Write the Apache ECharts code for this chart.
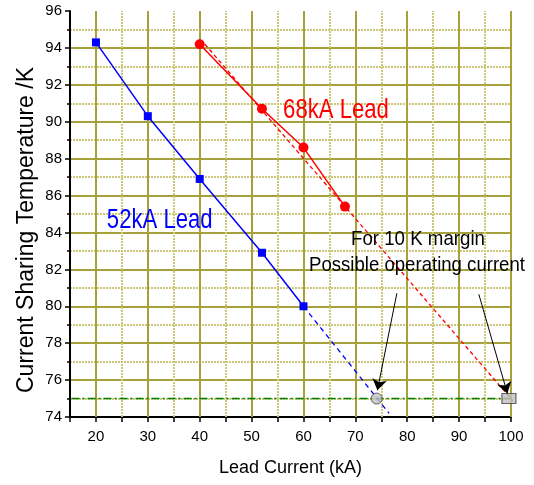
<!DOCTYPE html>
<html>
<head>
<meta charset="utf-8">
<script src="https://cdn.jsdelivr.net/npm/echarts@6/dist/echarts.min.js"></script>
<style>
html,body{margin:0;padding:0;background:#fff;}
#chart{width:534px;height:485px;}
</style>
</head>
<body>
<div id="chart"></div>
<script>
// ---- data ----
const current52 = [20, 30, 40, 52, 60];
const temp52 = [94.3, 90.3, 86.9, 82.9, 80.0];
const extrapCurrent52 = [60, 76.5];
const extrapTemp52 = [80.0, 74.2];
const current68 = [40, 52, 60, 68];
const temp68 = [94.2, 90.7, 88.6, 85.4];
const fitCurrent68 = [41, 101.2];
const fitTemp68 = [94.2, 74.6];
const marginCurrent = [15.3, 100];
const marginTemp = [75, 75];
const operating52 = [74.1, 75];
const operating68 = [99.6, 75];
const arrowStarts = [[78.0, 80.7], [93.8, 80.65]];
const arrowEnds = [[74.25, 75.45], [99.3, 75.28]];
const xMajorTicks = [20, 30, 40, 50, 60, 70, 80, 90, 100];
const xMinorTicks = [25, 35, 45, 55, 65, 75, 85, 95];
const seriesLabels = ['52kA Lead', '68kA Lead'];
const annotationLines = ['For 10 K margin', 'Possible operating current'];

const pairs = (xs, ys) => xs.map((x, i) => [x, ys[i]]);
const FONT = '"Liberation Sans", Arial, sans-serif';
const majorGrid = '#a6a13a';
const minorGrid = '#cdc77a';

const chart = echarts.init(document.getElementById('chart'), null, {renderer: 'canvas'});

const option = {
  animation: false,
  backgroundColor: '#ffffff',
  grid: {left: 70, right: 23, top: 11, bottom: 68, containLabel: false, outerBoundsMode: 'none'},
  xAxis: {
    type: 'value', min: 15, max: 100, interval: 5,
    name: 'Lead Current (kA)', nameLocation: 'middle', nameGap: 42, nameMoveOverlap: false,
    nameTextStyle: {fontFamily: FONT, fontSize: 18, color: '#000'},
    axisLine: {show: true, onZero: false, lineStyle: {color: '#000', width: 2}},
    axisTick: {show: true, inside: false, length: 5, lineStyle: {color: '#000', width: 1.5}},
    axisLabel: {
      margin: 12, fontFamily: FONT, fontSize: 15, color: '#000',
      formatter: v => (v % 10 === 0 ? String(v) : '')
    },
    splitLine: {show: false}
  },
  yAxis: {
    type: 'value', min: 74, max: 96, interval: 2,
    name: 'Current Sharing Temperature /K', nameLocation: 'middle', nameGap: 32, nameRotate: 90, nameMoveOverlap: false,
    nameTextStyle: {fontFamily: FONT, fontSize: 23, color: '#000', padding: [0, 32, 0, 0]},
    axisLine: {show: true, onZero: false, lineStyle: {color: '#000', width: 2}},
    axisTick: {show: true, inside: false, length: 5, lineStyle: {color: '#000', width: 1.5}},
    minorTick: {show: true, splitNumber: 2, length: 3, lineStyle: {color: '#000', width: 1.5}},
    axisLabel: {margin: 8, fontFamily: FONT, fontSize: 15, color: '#000'},
    splitLine: {show: true, showMinLine: false, showMaxLine: false, lineStyle: {color: majorGrid, width: 2, type: 'solid'}},
    minorSplitLine: {show: true, lineStyle: {color: minorGrid, width: 2, type: [2, 1]}}
  },
  series: [
    {
      name: 'grid', type: 'line', data: [], z: 1, silent: true,
      markLine: {
        z: 1, silent: true, symbol: ['none', 'none'], label: {show: false}, animation: false,
        data: [
          ...xMinorTicks.map(v => ({xAxis: v, lineStyle: {color: minorGrid, width: 2, type: [2, 1]}})),
          ...xMajorTicks.map(v => ({xAxis: v, lineStyle: {color: majorGrid, width: 2, type: 'solid'}}))
        ]
      }
    },
    {
      name: 'margin', type: 'line', z: 3, symbol: 'none', silent: true,
      data: pairs(marginCurrent, marginTemp),
      lineStyle: {color: '#008000', width: 1.5, type: [8, 3, 2, 3]}
    },
    {
      name: 'extrap52', type: 'line', z: 3, symbol: 'none', silent: true,
      data: pairs(extrapCurrent52, extrapTemp52),
      lineStyle: {color: '#0000ff', width: 1.3, type: [5, 4]}
    },
    {
      name: 'fit68', type: 'line', z: 3, symbol: 'none', silent: true,
      data: pairs(fitCurrent68, fitTemp68),
      lineStyle: {color: '#ff0000', width: 1.3, type: [4, 3]}
    },
    {
      name: seriesLabels[0], type: 'line', z: 4, symbol: 'rect', symbolSize: 8, silent: true,
      data: pairs(current52, temp52),
      itemStyle: {color: '#0000ff'},
      lineStyle: {color: '#0000ff', width: 1.5}
    },
    {
      name: seriesLabels[1], type: 'line', z: 4, symbol: 'circle', symbolSize: 10, silent: true,
      data: pairs(current68, temp68),
      itemStyle: {color: '#ff0000'},
      lineStyle: {color: '#ff0000', width: 1.5}
    },
    {
      name: 'op52', type: 'scatter', z: 5, symbol: 'circle', symbolSize: 11, silent: true,
      data: [operating52],
      itemStyle: {color: '#c0c0c0', borderColor: '#404040', borderWidth: 1}
    },
    {
      name: 'op68', type: 'scatter', z: 5, symbol: 'rect', symbolSize: [14, 10], silent: true,
      data: [operating68],
      itemStyle: {color: '#c0c0c0', borderColor: '#404040', borderWidth: 1}
    },
    {
      name: 'arrows', type: 'line', data: [], z: 6, silent: true,
      markLine: {
        z: 6, silent: true, symbol: ['none', 'arrow'], symbolSize: 11, label: {show: false}, animation: false,
        lineStyle: {color: '#000', width: 1, type: 'solid'},
        itemStyle: {color: '#000'},
        data: arrowStarts.map((s, i) => [{coord: s}, {coord: arrowEnds[i]}])
      }
    }
  ]
};
chart.setOption(option);

// text annotations anchored in data space, converted through the chart's own axes
const textAnchors = [
  {text: seriesLabels[0], at: [32.3, 84.67], color: '#0000ff', size: 28, sx: 0.79},
  {text: seriesLabels[1], at: [66.27, 90.63], color: '#ff0000', size: 28, sx: 0.79},
  {text: annotationLines[0], at: [82.07, 83.64], color: '#000', size: 21, sx: 0.89},
  {text: annotationLines[1], at: [81.88, 82.2], color: '#000', size: 21, sx: 0.885}
];
chart.setOption({
  graphic: textAnchors.map(t => {
    const p = chart.convertToPixel({gridIndex: 0}, t.at);
    return {
      type: 'text', x: p[0], y: p[1], scaleX: t.sx, scaleY: 1, z: 10, silent: true,
      style: {
        text: t.text, fill: t.color, font: t.size + 'px ' + FONT,
        align: 'center', verticalAlign: 'middle', textAlign: 'center', textVerticalAlign: 'middle'
      }
    };
  })
});
</script>
</body>
</html>
